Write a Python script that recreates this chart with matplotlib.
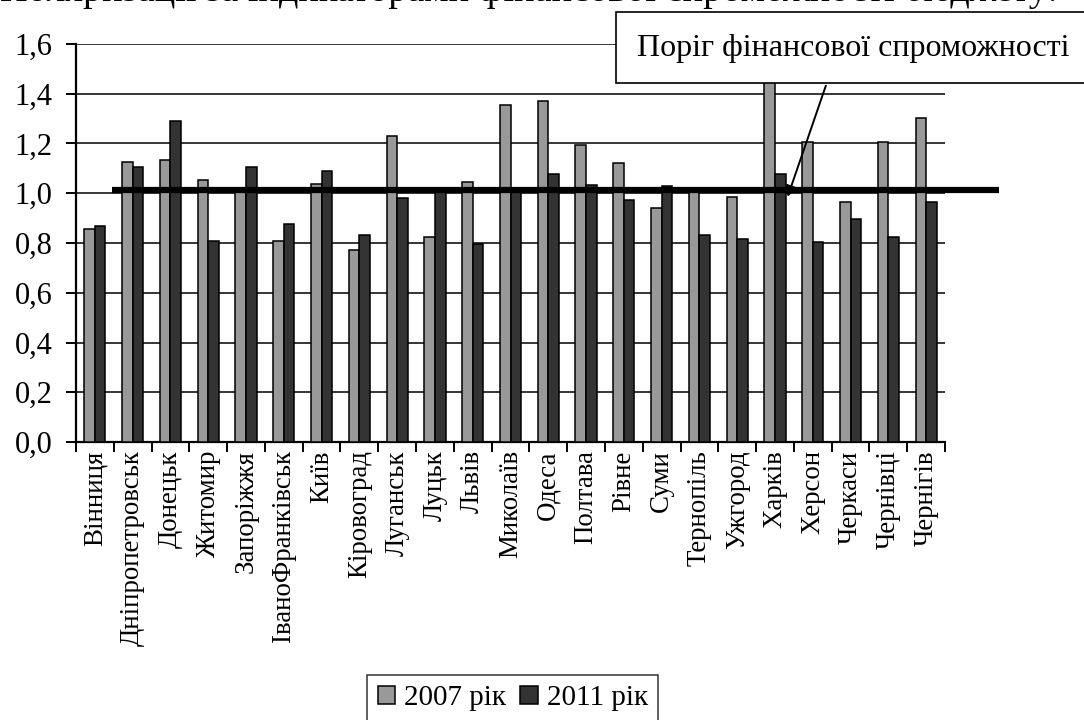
import matplotlib
matplotlib.use('Agg')
import matplotlib.pyplot as plt
import numpy as np
from matplotlib.ticker import FuncFormatter, FixedLocator
from matplotlib.patches import Rectangle

plt.rcParams['font.family'] = ['Liberation Serif', 'DejaVu Serif']

# data
cities = ['Вінниця', 'Дніпропетровськ', 'Донецьк', 'Житомир', 'Запоріжжя',
          'ІваноФранківськ', 'Київ', 'Кіровоград', 'Луганськ', 'Луцьк', 'Львів',
          'Миколаїв', 'Одеса', 'Полтава', 'Рівне', 'Суми', 'Тернопіль', 'Ужгород',
          'Харків', 'Херсон', 'Черкаси', 'Чернівці', 'Чернігів']
values_2007 = [0.855, 1.126, 1.135, 1.053, 1.01, 0.809, 1.039, 0.773, 1.230,
               0.824, 1.045, 1.355, 1.371, 1.193, 1.120, 0.942, 1.01, 0.986,
               1.46, 1.207, 0.965, 1.207, 1.304]
values_2011 = [0.868, 1.105, 1.290, 0.809, 1.105, 0.876, 1.089, 0.832, 0.980,
               1.005, 0.796, 1.005, 1.076, 1.032, 0.973, 1.028, 0.832, 0.816,
               1.076, 0.803, 0.898, 0.824, 0.965]
series_labels = ['2007 рік', '2011 рік']
threshold = 1.012
title_text = 'Поляризації за індикаторами фінансової спроможності бюджету:'
threshold_label = 'Поріг фінансової спроможності'

fs = 21
fig = plt.figure(figsize=(10.84, 7.2), dpi=100)
ax = fig.add_axes([0.0701, 0.3861, 0.8017, 0.5528])

x = np.arange(len(cities))
w = 0.28
ax.bar(x - w / 2, values_2007, w, color='#999999', edgecolor='black', linewidth=1.1,
       label=series_labels[0], zorder=3)
ax.bar(x + w / 2, values_2011, w, color='#333333', edgecolor='black', linewidth=1.1,
       label=series_labels[1], zorder=3)

ax.set_xlim(-0.5, len(cities) - 0.5)
ax.set_ylim(0, 1.6)
ax.set_yticks(np.arange(0, 1.61, 0.2))
ax.yaxis.set_major_formatter(FuncFormatter(lambda v, p: f'{v:.1f}'.replace('.', ',')))
ax.yaxis.grid(True, color='black', linewidth=1.1, zorder=0)
ax.set_axisbelow(True)

ax.set_xticks(x)
ax.set_xticklabels(cities, rotation=90, fontsize=fs * 0.92)
ax.xaxis.set_minor_locator(FixedLocator(np.arange(-0.5, len(cities), 1.0)))
ax.tick_params(axis='x', which='major', length=0, pad=6)
ax.tick_params(axis='x', which='minor', length=7, width=1.4, direction='out')
ax.tick_params(axis='y', length=7, width=1.4, direction='out', pad=10, labelsize=22)

for s in ['top', 'right']:
    ax.spines[s].set_visible(False)
for s in ['left', 'bottom']:
    ax.spines[s].set_linewidth(1.6)

# threshold line
ax.plot([0.45, 23.94], [threshold, threshold], color='black', linewidth=4.5,
        solid_capstyle='butt', clip_on=False, zorder=5)

# callout box
fig.patches.append(Rectangle((0.568, 0.8847), 0.5, 0.0993, transform=fig.transFigure,
                             facecolor='white', edgecolor='black', linewidth=1.2, zorder=6))
fig.text(0.588, 0.933, threshold_label, fontsize=23, va='center', ha='left', zorder=7)
ax.annotate('', xy=(18.31, 0.975), xytext=(19.37, 1.443),
            arrowprops=dict(arrowstyle='-|>', color='black', lw=1.4, mutation_scale=16),
            annotation_clip=False, zorder=7)

# title cut off at the top edge
fig.text(0.0, 0.9985, title_text, fontsize=27.5, va='baseline', ha='left')

leg = fig.legend(loc='upper center', bbox_to_anchor=(0.473, 0.0625), ncol=2,
                 fontsize=fs, frameon=True, fancybox=False, edgecolor='black',
                 handlelength=0.6, handleheight=0.6, handletextpad=0.3,
                 columnspacing=0.5, borderpad=0.35, borderaxespad=0)
leg.get_frame().set_linewidth(1.1)

fig.savefig('out.png', dpi=100)
